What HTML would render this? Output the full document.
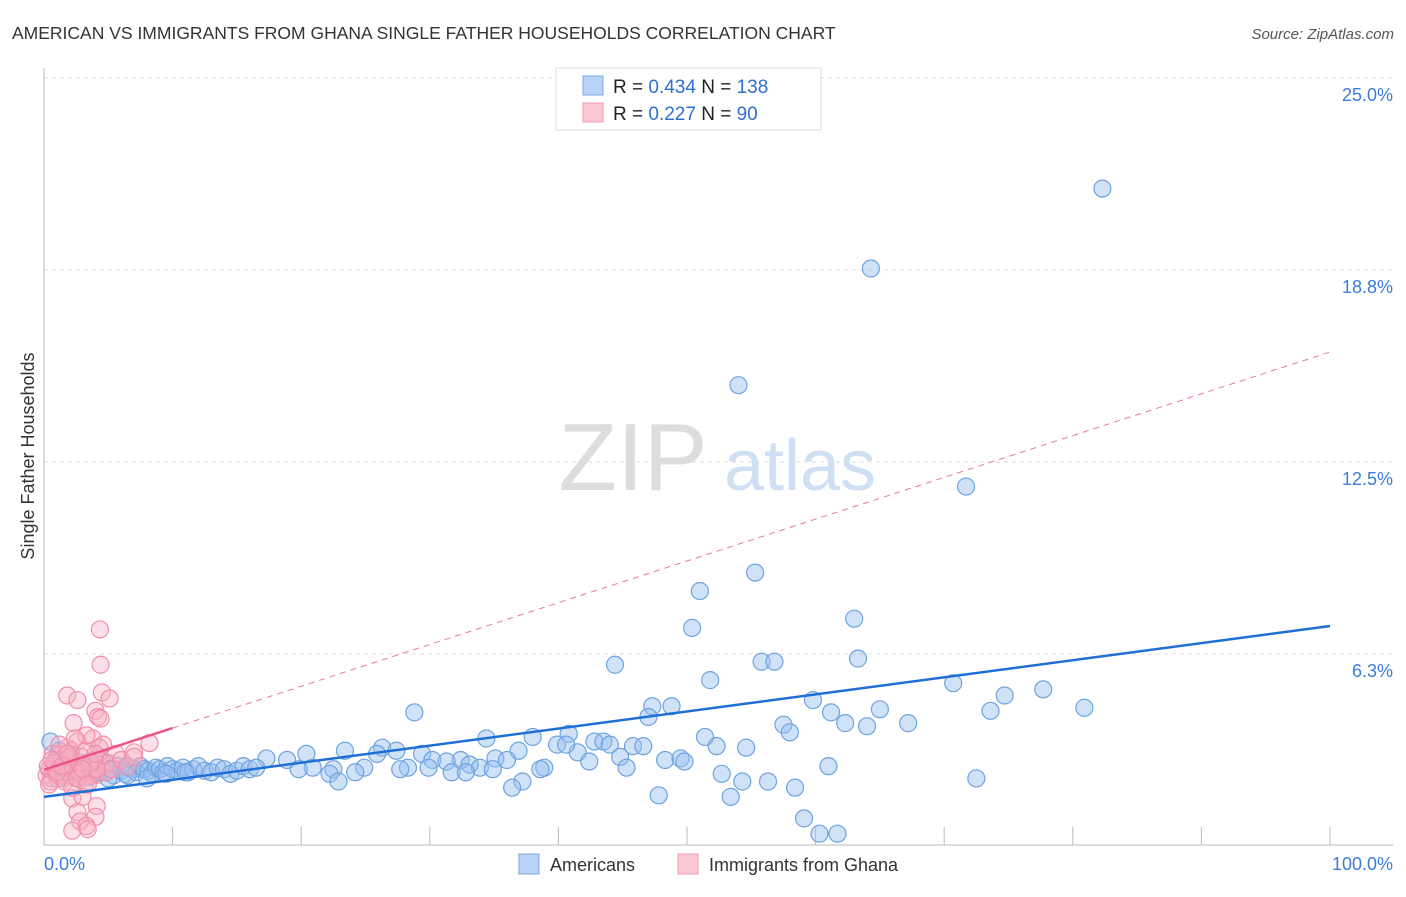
<!DOCTYPE html>
<html><head><meta charset="utf-8"><style>
body{margin:0;background:#fff;font-family:"Liberation Sans",sans-serif}
svg text{font-family:"Liberation Sans",sans-serif}
</style></head><body>
<svg id="c" width="1406" height="892" xmlns="http://www.w3.org/2000/svg">
<text x="12" y="39" font-size="17.5" fill="#333">AMERICAN VS IMMIGRANTS FROM GHANA SINGLE FATHER HOUSEHOLDS CORRELATION CHART</text>
<text x="1394" y="39" font-size="15" fill="#555" font-style="italic" text-anchor="end">Source: ZipAtlas.com</text>
<text transform="translate(34,456) rotate(-90)" font-size="18" fill="#333" text-anchor="middle">Single Father Households</text>
<g>
<text x="633" y="490" font-size="96" fill="#ddd" font-family="Liberation Serif,serif" text-anchor="middle">ZIP</text>
<text x="800" y="490" font-size="72" fill="#cfe0f4" text-anchor="middle">atlas</text>
</g>
<g id="grid"></g>
<g id="axes"></g>
<g id="pts"></g>
<g id="lines"></g>
<g>
<rect x="556" y="68" width="265" height="62" fill="#fff" stroke="#ddd"/>
<rect x="583" y="76" width="20" height="19" fill="#b8d3f5" stroke="#7aa9e6"/>
<rect x="583" y="103" width="20" height="19" fill="#fcc8d6" stroke="#ef9ab2"/>
<text x="613" y="93" font-size="19" fill="#222">R = <tspan fill="#2f6fcf">0.434</tspan>   N = <tspan fill="#2f6fcf">138</tspan></text>
<text x="613" y="120" font-size="19" fill="#222">R =  <tspan fill="#2f6fcf">0.227</tspan>   N =  <tspan fill="#2f6fcf"> 90</tspan></text>
</g>
<g>
<rect x="519" y="854" width="20" height="20" fill="#b8d3f5" stroke="#7aa9e6"/>
<text x="550" y="871" font-size="18" fill="#333">Americans</text>
<rect x="678" y="854" width="20" height="20" fill="#fcc8d6" stroke="#ef9ab2"/>
<text x="709" y="871" font-size="18" fill="#333">Immigrants from Ghana</text>
</g>
</svg>
<script>
const yTicks=[6.25,12.5,18.75,25];
const yTickLabels=["6.3%","12.5%","18.8%","25.0%"];
const xTicks=[0,10,20,30,40,50,60,70,80,90,100];
const xEndLabels=["0.0%","100.0%"];
const blueX=[82.3,64.3,54.0,71.7,55.3,51.0,50.4,63.0,63.3,55.8,56.8,44.4,51.8,70.7,77.7,74.7,59.8,80.9,47.3,48.8,65.0,73.6,61.2,28.8,47.0,62.3,64.0,67.2,57.5,58.0,51.4,34.4,38.0,40.8,42.8,43.5,39.9,44.0,45.8,46.6,52.3,54.6,26.3,23.4,27.4,36.9,41.5,40.6,44.8,29.4,20.4,25.9,17.3,18.9,35.1,48.3,49.5,49.8,42.4,30.2,32.4,31.3,36.0,33.1,45.3,61.0,38.9,28.3,29.9,33.9,24.9,22.5,20.9,19.8,38.6,24.2,27.7,22.2,31.7,32.8,34.9,52.7,72.5,54.3,56.3,37.2,22.9,36.4,58.4,47.8,53.4,59.1,60.3,61.7,
0.5,0.9,1.2,1.5,1.8,2.1,2.4,2.7,3.0,3.3,3.6,3.9,4.2,4.5,4.8,5.1,5.4,5.7,6.0,6.3,6.6,6.9,7.2,7.5,7.8,8.1,8.4,8.7,9.0,9.3,9.6,10.0,10.4,10.8,11.2,11.6,12.0,12.5,13.0,13.5,14.0,14.5,15.0,15.5,16.0,16.5,1.0,2.0,3.5,5.0,6.5,8.0,9.5,11.0];
const blueY=[21.4,18.8,15.0,11.7,8.9,8.3,7.1,7.4,6.1,6.0,6.0,5.9,5.4,5.3,5.1,4.9,4.75,4.5,4.55,4.55,4.45,4.4,4.35,4.35,4.2,4.0,3.9,4.0,3.95,3.7,3.55,3.5,3.55,3.65,3.4,3.4,3.3,3.3,3.25,3.25,3.25,3.2,3.2,3.1,3.1,3.1,3.05,3.3,2.9,3.0,3.0,3.0,2.85,2.8,2.85,2.8,2.85,2.75,2.75,2.8,2.8,2.75,2.8,2.65,2.55,2.6,2.55,2.55,2.55,2.55,2.55,2.5,2.55,2.5,2.5,2.4,2.5,2.35,2.4,2.4,2.5,2.35,2.2,2.1,2.1,2.1,2.1,1.9,1.9,1.65,1.6,0.9,0.4,0.4,
3.4,2.8,3.1,2.6,2.4,2.9,2.5,2.3,2.7,2.45,2.6,2.35,2.55,2.4,2.7,2.5,2.3,2.6,2.45,2.35,2.55,2.5,2.4,2.6,2.5,2.45,2.35,2.55,2.5,2.4,2.6,2.5,2.45,2.55,2.4,2.5,2.6,2.45,2.4,2.55,2.5,2.35,2.45,2.6,2.5,2.55,2.2,2.3,2.25,2.2,2.3,2.2,2.35,2.4];
const pinkX=[4.35,4.4,1.8,4.5,5.1,2.6,4.0,4.2,4.4,2.3,8.2,7.0,2.2,3.0,4.1,2.6,4.0,2.8,3.3,2.2,3.4,
0.2,0.4,0.6,0.8,1.0,1.2,1.4,1.6,1.8,2.0,2.2,2.4,2.6,2.8,3.0,3.2,3.4,3.6,3.8,4.0,4.2,4.4,4.6,4.8,5.0,5.3,5.6,6.0,6.5,7.0,0.3,0.5,0.7,0.9,1.1,1.3,1.5,1.7,1.9,2.1,2.3,2.5,2.7,2.9,3.1,3.3,3.5,3.7,3.9,4.1,4.3,0.4,0.8,1.2,1.6,2.0,2.4,2.8,3.2,3.6,4.0,0.6,1.0,1.4,1.8,2.2,2.6,3.0,3.4];
const pinkY=[7.05,5.9,4.9,5.0,4.8,4.75,4.4,4.2,4.15,4.0,3.35,3.05,1.55,1.6,1.3,1.1,0.95,0.8,0.65,0.5,0.55,
2.3,2.5,2.2,2.7,2.4,3.0,2.6,2.3,3.2,2.5,2.8,2.4,3.4,2.6,2.2,3.1,2.7,2.5,3.5,2.3,2.9,2.6,3.3,2.4,2.7,2.5,3.0,2.8,2.6,2.9,2.6,2.1,3.0,2.5,2.3,2.8,2.2,2.6,2.4,3.1,2.5,2.2,2.7,2.9,2.4,3.6,2.6,2.3,2.8,2.5,3.2,2.0,2.7,3.3,2.1,2.9,3.5,2.4,2.0,2.7,3.0,2.8,2.4,2.6,3.0,1.9,2.2,2.5,2.0];
const blueFit=[1.6,7.16];
const pinkFit=[2.48,16.08];
const NS="http://www.w3.org/2000/svg";
const X0=44,X1=1330,Y0=846,YPX=192/6.25;
const sx=v=>X0+(X1-X0)*v/100, sy=v=>Y0-v*YPX;
function mk(t,a,p){const e=document.createElementNS(NS,t);for(const k in a)e.setAttribute(k,a[k]);document.getElementById(p).appendChild(e);return e;}
yTicks.forEach((t,i)=>{
 const l=mk('line',{x1:44,x2:1393,y1:sy(t),y2:sy(t),stroke:'#ddd','stroke-dasharray':'4,4'},'grid');
 
 
 const tx=mk('text',{x:1393,y:sy(t)+23,'font-size':18,fill:'#3b7dd8','text-anchor':'end'},'grid');
 tx.textContent=yTickLabels[i];
 
 
});
const la=mk('line',{x1:44,x2:44,y1:68,y2:845,stroke:'#bbb'},'axes');


const ba=mk('line',{x1:44,x2:1393,y1:845,y2:845,stroke:'#bbb'},'axes');


xTicks.forEach(t=>{
 const l=mk('line',{x1:sx(t),x2:sx(t),y1:827,y2:845,stroke:'#bbb'},'axes');
 
 
});
[[0,'start',44],[100,'end',1393]].forEach((d,i)=>{
 const tx=mk('text',{x:d[2],y:870,'font-size':18,fill:'#3b7dd8','text-anchor':d[1]},'axes');
 tx.textContent=xEndLabels[i];
 
 
});
blueX.forEach((x,i)=>{
 const c=mk('circle',{cx:sx(x),cy:sy(blueY[i]),r:8.5,fill:'rgba(150,190,240,0.45)',stroke:'#6fa3e0','stroke-width':1.2},'pts');
 
 
});
pinkX.forEach((x,i)=>{
 const c=mk('circle',{cx:sx(x),cy:sy(pinkY[i]),r:8.5,fill:'rgba(248,175,196,0.4)',stroke:'#ef8fac','stroke-width':1.2},'pts');
 
 
});
const bl=mk('line',{x1:sx(0),y1:sy(blueFit[0]),x2:sx(100),y2:sy(blueFit[1]),stroke:'#1f6fd6','stroke-width':2.5},'lines');


const pv=x=>pinkFit[0]+(pinkFit[1]-pinkFit[0])*x/100;
const pd=mk('line',{x1:sx(10),y1:sy(pv(10)),x2:sx(100),y2:sy(pv(100)),stroke:'#e8799c','stroke-width':1,'stroke-dasharray':'6,5'},'lines');


const ps=mk('line',{x1:sx(0),y1:sy(pv(0)),x2:sx(10),y2:sy(pv(10)),stroke:'#e8578a','stroke-width':2.5},'lines');


</script>
</body></html>
